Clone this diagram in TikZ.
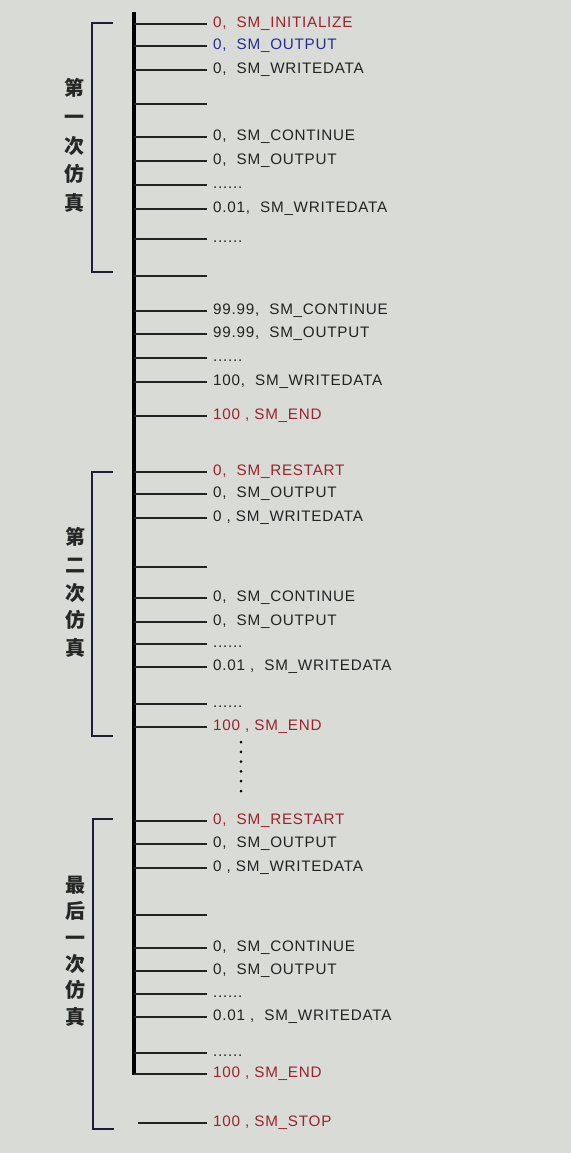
\documentclass[tikz,border=0pt]{standalone}
\usepackage{fontspec}
\setmainfont{Liberation Sans}
\newfontfamily\lbl[LetterSpace=5]{Liberation Sans}
\newfontfamily\cjk{Noto Sans CJK SC}
\usetikzlibrary{positioning}
\definecolor{bgcol}{RGB}{216,219,214}
\definecolor{smred}{RGB}{155,35,45}
\definecolor{smblue}{RGB}{40,45,150}
\definecolor{smtext}{RGB}{35,35,35}
\definecolor{brk}{RGB}{30,30,55}
\newcommand\evdots{......}
\tikzset{
  %% main time line
  timeline/.style={line width=3pt, draw=black},
  %% short tick to an event
  evtick/.style={line width=1.1pt, draw=smtext},
  %% event text
  evlabel/.style={anchor=base west, inner sep=0pt,
                  font=\lbl\fontsize{13}{15}\selectfont, text=#1},
  evlabel/.default=smtext,
  %% bracket of one run
  runbrace/.style={line width=1pt, draw=brk},
  %% vertical run name
  runlabel/.style={align=center, inner sep=0pt, text=black!85,
                   font=\cjk\bfseries\fontsize{17}{#1}\selectfont},
}
\begin{document}
\begin{tikzpicture}[x=0.03cm, y=-0.03cm]

  \fill[bgcol] (0,0) rectangle (571,1153);
  \useasboundingbox (0,0) rectangle (571,1153);

  \coordinate (top) at (134,12);
  \coordinate (bot) at (134,1075);
  \draw[timeline] (top) -- (bot);

  \foreach \i/\y/\c/\t in {
      1/24/smred/{0,\ \ SM\_INITIALIZE},
      2/46/smblue/{0,\ \ SM\_OUTPUT},
      3/70/smtext/{0,\ \ SM\_WRITEDATA},
      4/104/smtext/{},
      5/137/smtext/{0,\ \ SM\_CONTINUE},
      6/161/smtext/{0,\ \ SM\_OUTPUT},
      7/185/smtext/{\evdots},
      8/209/smtext/{0.01,\ \ SM\_WRITEDATA},
      9/239/smtext/{\evdots},
      10/276/smtext/{},
      11/311/smtext/{99.99,\ \ SM\_CONTINUE},
      12/334/smtext/{99.99,\ \ SM\_OUTPUT},
      13/358/smtext/{\evdots},
      14/382/smtext/{100,\ \ SM\_WRITEDATA},
      15/416/smred/{100 , SM\_END},
      16/472/smred/{0,\ \ SM\_RESTART},
      17/494/smtext/{0,\ \ SM\_OUTPUT},
      18/518/smtext/{0 , SM\_WRITEDATA},
      19/567/smtext/{},
      20/598/smtext/{0,\ \ SM\_CONTINUE},
      21/622/smtext/{0,\ \ SM\_OUTPUT},
      22/644/smtext/{\evdots},
      23/667/smtext/{0.01 ,\ \ SM\_WRITEDATA},
      24/704/smtext/{\evdots},
      25/727/smred/{100 , SM\_END},
      26/821/smred/{0,\ \ SM\_RESTART},
      27/844/smtext/{0,\ \ SM\_OUTPUT},
      28/868/smtext/{0 , SM\_WRITEDATA},
      29/915/smtext/{},
      30/948/smtext/{0,\ \ SM\_CONTINUE},
      31/971/smtext/{0,\ \ SM\_OUTPUT},
      32/994/smtext/{\evdots},
      33/1017/smtext/{0.01 ,\ \ SM\_WRITEDATA},
      34/1053/smtext/{\evdots},
      35/1074/smred/{100 , SM\_END}} {
    \coordinate (ax\i) at (134,\y);
    \coordinate (tk\i) at (207,\y);
    \draw[evtick] (ax\i) -- (tk\i);
    \node[evlabel=\c] (ev\i) at (213,\y+3.5) {\t};
  }

  % stop, off the time line
  \coordinate (ax36) at (138,1123);
  \coordinate (tk36) at (207,1123);
  \draw[evtick] (ax36) -- (tk36);
  \node[evlabel=smred] (ev36) at (213,1126.5) {100 , SM\_STOP};

  % runs skipped
  \foreach \k in {0,...,5}
    \fill[black] (241,742+9.8*\k) circle (1.5);

  % brackets
  \coordinate (b1t) at (113,23);
  \coordinate (b1b) at (113,272);
  \draw[runbrace] (b1t) -- ++(-21,0) |- (b1b);
  \coordinate (b2t) at (113,472);
  \coordinate (b2b) at (113,736);
  \draw[runbrace] (b2t) -- ++(-21,0) |- (b2b);
  \coordinate (b3t) at (113,819);
  \coordinate (b3b) at (114,1129);
  \draw[runbrace] (b3t) -- ++(-20,0) |- (b3b);

  \node[runlabel=24.5pt] (run1) at (74,145.5)
       {第\\一\\次\\仿\\真};
  \node[runlabel=23.7pt] (run2) at (75,592.5)
       {第\\二\\次\\仿\\真};
  \node[runlabel=22.5pt] (run3) at (75,951)
       {最\\后\\一\\次\\仿\\真};

\end{tikzpicture}
\end{document}
